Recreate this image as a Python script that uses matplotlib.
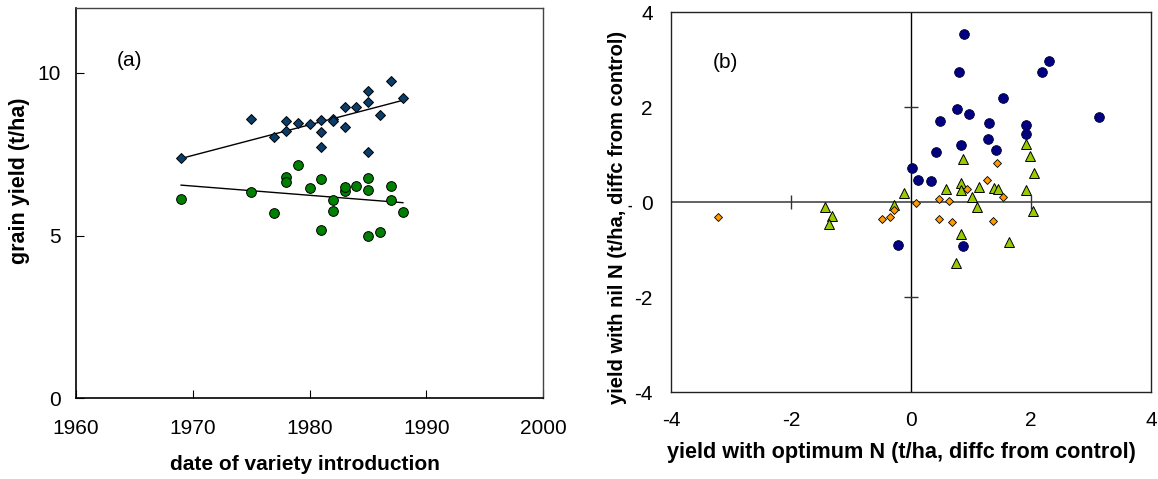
import matplotlib
matplotlib.use('Agg')
import matplotlib.pyplot as plt

plt.rcParams['font.family'] = ['Liberation Sans', 'DejaVu Sans']

# ---------------- Panel (a) data ----------------
years_opt = [1969, 1975, 1977, 1978, 1978, 1979, 1980, 1981, 1981, 1981, 1982,
             1982, 1983, 1983, 1984, 1985, 1985, 1985, 1986, 1987, 1988]
yield_opt = [7.37, 8.58, 8.02, 8.51, 8.21, 8.46, 8.42, 8.55, 8.18, 7.73, 8.59,
             8.51, 8.95, 8.34, 8.95, 9.45, 9.12, 7.57, 8.72, 9.76, 9.23]
years_nil = [1969, 1975, 1977, 1978, 1978, 1979, 1980, 1981, 1981, 1982, 1982,
             1983, 1983, 1984, 1985, 1985, 1985, 1986, 1987, 1987, 1988]
yield_nil = [6.12, 6.33, 5.68, 6.81, 6.65, 7.17, 6.45, 6.73, 5.18, 6.08, 5.76,
             6.36, 6.50, 6.53, 6.77, 6.41, 4.98, 5.10, 6.52, 6.08, 5.72]
trend_years = [1969, 1988]
trend_opt = [7.37, 9.16]
trend_nil = [6.55, 6.01]
a_xticks = [1960, 1970, 1980, 1990, 2000]
a_yticks = [0, 5, 10]

# ---------------- Panel (b) data ----------------
circ_x = [0.88, 0.80, 2.19, 2.30, 1.53, 0.76, 0.97, 0.49, 1.30, 1.92, 1.92,
          3.13, 1.28, 0.83, 1.41, 0.42, 0.01, 0.12, 0.34, -0.21, 0.86]
circ_y = [3.55, 2.75, 2.75, 2.97, 2.20, 1.96, 1.85, 1.71, 1.66, 1.62, 1.43,
          1.79, 1.33, 1.21, 1.11, 1.05, 0.72, 0.47, 0.45, -0.90, -0.93]
tri_x = [1.92, 0.87, 1.99, 2.05, 0.83, 0.83, 1.14, 1.39, 1.45, 0.59, 1.01,
         1.92, 1.10, 2.04, -0.11, -0.28, -1.44, -1.31, -1.36, 0.83, 1.64, 0.75]
tri_y = [1.23, 0.91, 0.98, 0.62, 0.41, 0.26, 0.32, 0.31, 0.29, 0.27, 0.12,
         0.26, -0.10, -0.18, 0.19, -0.05, -0.09, -0.29, -0.46, -0.67, -0.84, -1.27]
dia_x = [-3.21, 1.43, 1.27, 0.94, 0.46, 0.63, 1.53, 0.08, -0.28, -0.35, -0.48,
         0.46, 0.68, 1.37]
dia_y = [-0.31, 0.82, 0.46, 0.27, 0.07, 0.02, 0.11, -0.01, -0.17, -0.31, -0.36,
         -0.36, -0.41, -0.39]
b_ticks = [-4, -2, 0, 2, 4]
b_ticklabels = ['-4', '-2', '0', '2', '4']
b_cross_ticks = [-2, 2]

FS = 15

fig = plt.figure(figsize=(11.58, 4.79), dpi=100)

# ---------------- Panel (a) ----------------
axa = fig.add_axes([76 / 1158, 1 - 398 / 479, 467 / 1158, 390 / 479])
axa.plot(trend_years, trend_opt, color='black', lw=1.0, zorder=2)
axa.plot(trend_years, trend_nil, color='black', lw=1.0, zorder=2)
axa.plot(years_opt, yield_opt, linestyle='none', marker='D', ms=5.6,
         mfc='#0b3d6b', mec='black', mew=0.7, zorder=3)
axa.plot(years_nil, yield_nil, linestyle='none', marker='o', ms=7.0,
         mfc='#008000', mec='black', mew=0.7, zorder=3)
axa.set_xlim(1960, 2000)
axa.set_ylim(0, 12)
axa.set_xticks(a_xticks)
axa.set_yticks(a_yticks)
axa.tick_params(axis='both', direction='in', length=6, width=0.8,
                labelsize=FS, colors='black')
axa.tick_params(axis='x', pad=15)
axa.tick_params(axis='y', pad=11)
for side in ['left', 'bottom']:
    axa.spines[side].set_color('black')
    axa.spines[side].set_linewidth(1.2)
for side in ['top', 'right']:
    axa.spines[side].set_color('#444444')
    axa.spines[side].set_linewidth(1.0)
axa.set_xlabel('date of variety introduction', fontsize=15, fontweight='bold')
axa.set_ylabel('grain yield (t/ha)', fontsize=15.5, fontweight='bold')
axa.xaxis.set_label_coords(0.49, -0.146)
axa.yaxis.set_label_coords(-0.098, 0.557)
axa.text(0.115, 0.865, '(a)', transform=axa.transAxes, fontsize=FS,
         ha='center', va='center')

# ---------------- Panel (b) ----------------
axb = fig.add_axes([671 / 1158, 1 - 392.3 / 479, 480 / 1158, 380 / 479])
axb.axhline(0, color='#555555', lw=1.3, zorder=1)
axb.axvline(0, color='black', lw=1.0, zorder=1)
axb.plot(b_cross_ticks, [0] * len(b_cross_ticks), linestyle='none',
         marker='|', ms=10, mew=1.0, color='#333333', zorder=1)
axb.plot([0] * len(b_cross_ticks), b_cross_ticks, linestyle='none',
         marker='_', ms=10, mew=1.0, color='#333333', zorder=1)
axb.plot(circ_x, circ_y, linestyle='none', marker='o', ms=7.0,
         mfc='#000080', mec='#000033', mew=0.6, zorder=3)
axb.plot(tri_x, tri_y, linestyle='none', marker='^', ms=7.2,
         mfc='#99cc00', mec='black', mew=0.7, zorder=4)
axb.plot(dia_x, dia_y, linestyle='none', marker='D', ms=4.3,
         mfc='#ff9900', mec='black', mew=0.6, zorder=5)
axb.set_xlim(-4, 4)
axb.set_ylim(-4, 4)
axb.set_xticks(b_ticks)
axb.set_xticklabels(b_ticklabels)
axb.set_yticks(b_ticks)
axb.set_yticklabels(b_ticklabels)
axb.tick_params(axis='both', length=0, labelsize=FS, colors='black')
axb.tick_params(axis='x', pad=13.5)
axb.tick_params(axis='y', pad=13)
for side in axb.spines:
    axb.spines[side].set_color('#222222')
    axb.spines[side].set_linewidth(1.0)
axb.set_xlabel('yield with optimum N (t/ha, diffc from control)',
               fontsize=15.6, fontweight='bold')
axb.set_ylabel('yield with nil N (t/ha, diffc from control)',
               fontsize=14.5, fontweight='bold')
axb.xaxis.set_label_coords(0.481, -0.131)
axb.yaxis.set_label_coords(-0.092, 0.461)
axb.text(0.1125, 0.869, '(b)', transform=axb.transAxes, fontsize=FS,
         ha='center', va='center')
axb.text(-0.085, 0.49, '-', transform=axb.transAxes, fontsize=10,
         fontweight='bold', ha='center', va='center')

fig.savefig('out.png', dpi=100)
